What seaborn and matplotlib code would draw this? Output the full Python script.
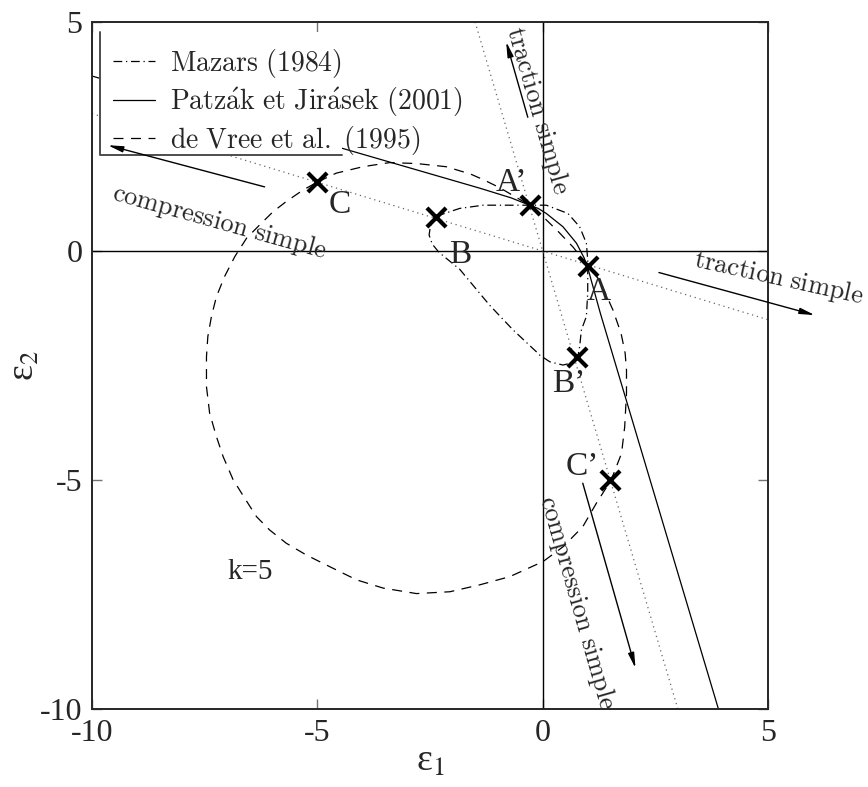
# Critères d'endommagement dans le plan (eps1, eps2), k=5

import numpy as np
import pandas as pd
import matplotlib
matplotlib.use('Agg')
import matplotlib.pyplot as plt
import seaborn as sns
from matplotlib.patches import Rectangle
from matplotlib.font_manager import FontProperties

# ----------- Data -----------

# Mazars (1984) - closed loop, dash-dot
mazars_e1 = [-2.36, -1.84, -1.32, -0.80, -0.29, 0.08, 0.56, 0.82, 0.97, 1.00, 1.00, 0.97,
             0.86, 0.82, 0.78, 0.62, 0.45, 0.16, -0.07, -0.14, -0.66, -1.18, -1.84, -2.30,
             -2.45, -2.52, -2.49, -2.36]
mazars_e2 = [0.76, 0.93, 1.00, 1.00, 1.00, 1.00, 0.82, 0.53, 0.17, -0.20, -0.90, -1.43,
             -1.72, -2.09, -2.31, -2.45, -2.49, -2.42, -2.27, -2.20, -1.72, -1.18, -0.40, -0.03,
             0.15, 0.35, 0.55, 0.76]

# Patzak et Jirasek (2001) - solid
patzak_e1 = [-10.0, -4.44, -1.39, -0.70, -0.29, -0.10, 0.08, 0.45, 0.75, 0.92, 1.01, 1.28, 3.90]
patzak_e2 = [3.82, 2.24, 1.37, 1.16, 1.00, 0.93, 0.82, 0.53, 0.17, -0.15, -0.40, -1.36, -10.0]

# de Vree et al. (1995) - closed loop, dashed
devree_e1 = [-4.99, -4.58, -3.99, -3.40, -2.80, -2.14, -1.60, -1.30, -0.95, -0.62, -0.29,
             0.08, 0.35, 0.68, 1.00, 1.26, 1.56, 1.74, 1.83, 1.86, 1.86, 1.82, 1.75, 1.52,
             1.19, 0.89, 0.45, 0.01, -0.73, -1.40, -2.06, -2.80, -3.54, -4.13, -4.73, -5.24,
             -5.69, -6.06, -6.35, -6.61, -6.87, -7.09, -7.24, -7.39, -7.46, -7.46, -7.43,
             -7.35, -7.24, -7.06, -6.83, -6.57, -6.28, -5.98, -5.69, -5.32, -4.99]
devree_e2 = [1.51, 1.70, 1.84, 1.93, 1.91, 1.84, 1.68, 1.55, 1.38, 1.19, 1.00, 0.68, 0.42,
             0.08, -0.33, -0.63, -1.29, -1.80, -2.23, -2.60, -3.11, -3.84, -4.42, -5.00, -5.51,
             -6.02, -6.46, -6.78, -7.11, -7.29, -7.44, -7.48, -7.36, -7.18, -6.89, -6.64, -6.38,
             -6.09, -5.80, -5.40, -4.99, -4.49, -4.05, -3.54, -2.96, -2.31, -1.87, -1.43, -1.00,
             -0.56, -0.12, 0.28, 0.57, 0.86, 1.08, 1.33, 1.51]

# uniaxial loading paths (dotted)
path1_e1 = [-10.0, 5.0]
path1_e2 = [3.0, -1.5]
path2_e1 = [-1.5, 3.0]
path2_e2 = [5.0, -10.0]

# marked points
mark_names = ["A", "A’", "B", "B’", "C", "C’"]
mark_e1 = [1.00, -0.29, -2.37, 0.77, -5.0, 1.5]
mark_e2 = [-0.33, 1.00, 0.74, -2.31, 1.5, -5.0]
mark_lab_e1 = [1.24, -0.70, -1.84, 0.58, -4.50, 0.88]
mark_lab_e2 = [-0.88, 1.50, -0.08, -2.90, 1.00, -4.72]

# arrows (tail -> head) and their texts
arrow_tail = [(-6.17, 1.40), (-0.33, 2.92), (2.58, -0.47), (0.89, -5.07)]
arrow_head = [(-9.65, 2.31), (-0.81, 4.57), (6.04, -1.40), (2.06, -9.11)]
arrow_text = [r"$\mathrm{compression\ simple}$", r"$\mathrm{traction\ simple}$",
              r"$\mathrm{traction\ simple}$", r"$\mathrm{compression\ simple}$"]
arrow_text_pos = [(-7.17, 0.62), (-0.12, 3.08), (5.24, -0.60), (0.76, -7.67)]
arrow_text_rot = [-15.5, -74, -12.5, -74]

legend_labels = [r"$\mathrm{Mazars\ (1984)}$",
                 r"$\mathrm{Patz\acute{a}k\ et\ Jir\acute{a}sek\ (2001)}$",
                 r"$\mathrm{de\ Vree\ et\ al.\ (1995)}$"]

# ----------- Plot -----------

sns.set_style("ticks")
plt.rcParams['axes.unicode_minus'] = False
plt.rcParams['mathtext.fontset'] = 'stix'
plt.rcParams['font.family'] = ['Liberation Serif', 'DejaVu Serif']

fig = plt.figure(figsize=(8.68, 7.87), dpi=100)
ax = fig.add_axes([92/868, 78/787, 676/868, 687/787])

ax.axhline(0, color='k', lw=1)
ax.axvline(0, color='k', lw=1)

sns.lineplot(x=path1_e1, y=path1_e2, ax=ax, color='0.4', lw=0.9,
             linestyle=(0, (1, 3)), sort=False, estimator=None)
sns.lineplot(x=path2_e1, y=path2_e2, ax=ax, color='0.4', lw=0.9,
             linestyle=(0, (1, 3)), sort=False, estimator=None)

l1 = sns.lineplot(x=mazars_e1, y=mazars_e2, ax=ax, color='k', lw=0.9,
                  linestyle=(0, (7, 3, 1, 3)), sort=False, estimator=None).lines[-1]
l2 = sns.lineplot(x=patzak_e1, y=patzak_e2, ax=ax, color='k', lw=0.9,
                  sort=False, estimator=None).lines[-1]
l3 = sns.lineplot(x=devree_e1, y=devree_e2, ax=ax, color='k', lw=0.9,
                  linestyle=(0, (8, 6)), sort=False, estimator=None).lines[-1]

sns.scatterplot(x=mark_e1, y=mark_e2, ax=ax, marker='x', s=190, linewidth=3,
                color='k', zorder=6, legend=False)

for name, x, y in zip(mark_names, mark_lab_e1, mark_lab_e2):
    ax.text(x, y, name, fontsize=24, ha='center', va='center')

ax.text(-6.5, -7.0, "k=5", fontsize=21, ha='center', va='center')

for tail, head in zip(arrow_tail, arrow_head):
    ax.annotate('', xy=head, xytext=tail, annotation_clip=False, zorder=9,
                arrowprops=dict(arrowstyle='-|>,head_length=0.9,head_width=0.18',
                                lw=1, color='k', shrinkA=0, shrinkB=0))

for txt, pos, rot in zip(arrow_text, arrow_text_pos, arrow_text_rot):
    ax.text(pos[0], pos[1], txt, fontsize=19, math_fontfamily='cm', rotation=rot,
            rotation_mode='anchor', ha='center', va='center')

ax.set_xlim(-10, 5)
ax.set_ylim(-10, 5)
ax.set_xticks([-10, -5, 0, 5])
ax.set_yticks([-10, -5, 0, 5])
ax.tick_params(direction='in', top=True, right=True, length=7, width=1,
               color='0.45', labelsize=23, pad=7)
for s in ax.spines.values():
    s.set_linewidth(1.4)

ax.set_xlabel("ε$_1$", fontsize=27)
ax.set_ylabel("ε$_2$", fontsize=27)
ax.xaxis.set_label_coords(0.5, -0.052)
ax.yaxis.set_label_coords(-0.074, 0.5)

# legend box: white face with only left and bottom edges
ax.add_patch(Rectangle((0.012, 0.806), 0.358, 0.179, transform=ax.transAxes,
                       fc='white', ec='none', zorder=4))
ax.plot([0.012, 0.012, 0.370], [0.985, 0.806, 0.806], transform=ax.transAxes,
        color='0.3', lw=1.4, zorder=7, clip_on=False)
leg = ax.legend([l1, l2, l3], legend_labels, loc='upper left',
                bbox_to_anchor=(0.031, 0.964), frameon=False, borderpad=0,
                borderaxespad=0, handlelength=1.5, handletextpad=0.55,
                labelspacing=0.18, prop=FontProperties(size=20, math_fontfamily='cm'))
leg.set_zorder(8)

plt.savefig('out.png', dpi=100)
